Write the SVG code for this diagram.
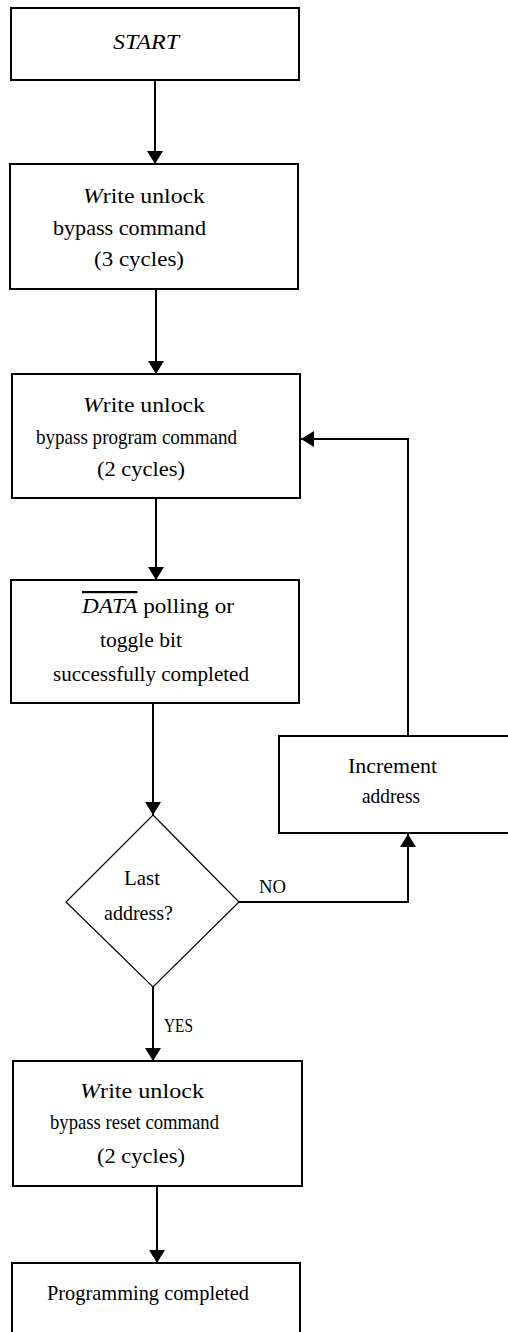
<svg xmlns="http://www.w3.org/2000/svg" width="508" height="1332" viewBox="0 0 508 1332">
<style>
.box{fill:#fff;stroke:#000;stroke-width:2}
.dia{fill:#fff;stroke:#000;stroke-width:1.2}
.con{fill:none;stroke:#000;stroke-width:2}
.t{font-family:'Liberation Serif','DejaVu Serif','Times New Roman',serif;font-size:22px;fill:#000}
.sm{font-size:19px}
.it{font-style:italic}
</style>
<defs>
<marker id="ah" markerUnits="userSpaceOnUse" markerWidth="14" markerHeight="16" viewBox="0 0 13 16" refX="13" refY="8" orient="auto">
<path d="M0,0 L13,8 L0,16 z" fill="#000"/>
</marker>
</defs>
<rect width="508" height="1332" fill="#fff"/>
<g id="connectors">
<line class="con" x1="155" y1="80" x2="155" y2="164" marker-end="url(#ah)"/>
<line class="con" x1="156" y1="289" x2="156" y2="374" marker-end="url(#ah)"/>
<line class="con" x1="156" y1="498" x2="156" y2="580" marker-end="url(#ah)"/>
<line class="con" x1="153" y1="703" x2="153" y2="815" marker-end="url(#ah)"/>
<polyline class="con" points="239,902 408,902 408,834" marker-end="url(#ah)"/>
<polyline class="con" points="408,736 408,439 301,439" marker-end="url(#ah)"/>
<line class="con" x1="153" y1="987" x2="153" y2="1061" marker-end="url(#ah)"/>
<line class="con" x1="157" y1="1186" x2="157" y2="1263" marker-end="url(#ah)"/>
<text class="t sm" font-family="Liberation Serif, serif" x="259" y="893" textLength="27" lengthAdjust="spacingAndGlyphs">NO</text>
<text class="t sm" font-family="Liberation Serif, serif" x="164" y="1032" textLength="29" lengthAdjust="spacingAndGlyphs">YES</text>
</g>
<g id="start">
<rect class="box" x="11" y="8" width="288" height="72"/>
<text class="t it" font-family="Liberation Serif, serif" x="113" y="49" textLength="66" lengthAdjust="spacingAndGlyphs">START</text>
</g>
<g id="unlock-bypass">
<rect class="box" x="10" y="164" width="288" height="125"/>
<text class="t" font-family="Liberation Serif, serif" x="83" y="203" textLength="122" lengthAdjust="spacingAndGlyphs"><tspan class="it">W</tspan>rite unlock</text>
<text class="t" font-family="Liberation Serif, serif" x="53" y="235" textLength="153" lengthAdjust="spacingAndGlyphs">bypass command</text>
<text class="t" font-family="Liberation Serif, serif" x="94" y="266" textLength="90" lengthAdjust="spacingAndGlyphs">(3 cycles)</text>
</g>
<g id="unlock-program">
<rect class="box" x="12" y="374" width="288" height="124"/>
<text class="t" font-family="Liberation Serif, serif" x="83" y="412" textLength="122" lengthAdjust="spacingAndGlyphs"><tspan class="it">W</tspan>rite unlock</text>
<text class="t" font-family="Liberation Serif, serif" x="36" y="444" textLength="201" lengthAdjust="spacingAndGlyphs">bypass program command</text>
<text class="t" font-family="Liberation Serif, serif" x="97" y="476" textLength="88" lengthAdjust="spacingAndGlyphs">(2 cycles)</text>
</g>
<g id="polling">
<rect class="box" x="11" y="580" width="288" height="123"/>
<text class="t" font-family="Liberation Serif, serif" x="82" y="613" textLength="152" lengthAdjust="spacingAndGlyphs"><tspan class="it" text-decoration="overline">DATA</tspan> polling or</text>
<text class="t" font-family="Liberation Serif, serif" x="100" y="647" textLength="82" lengthAdjust="spacingAndGlyphs">toggle bit</text>
<text class="t" font-family="Liberation Serif, serif" x="53" y="681" textLength="196" lengthAdjust="spacingAndGlyphs">successfully completed</text>
</g>
<g id="increment">
<rect class="box" x="279" y="736" width="240" height="97"/>
<text class="t" font-family="Liberation Serif, serif" x="348" y="773" textLength="89" lengthAdjust="spacingAndGlyphs">Increment</text>
<text class="t" font-family="Liberation Serif, serif" x="362" y="803" textLength="58" lengthAdjust="spacingAndGlyphs">address</text>
</g>
<g id="last-address">
<polygon class="dia" points="153,815 239,902 153,987 66,902"/>
<text class="t" font-family="Liberation Serif, serif" x="124" y="885" textLength="36" lengthAdjust="spacingAndGlyphs">Last</text>
<text class="t" font-family="Liberation Serif, serif" x="104" y="920" textLength="69" lengthAdjust="spacingAndGlyphs">address?</text>
</g>
<g id="unlock-reset">
<rect class="box" x="13" y="1061" width="289" height="125"/>
<text class="t" font-family="Liberation Serif, serif" x="80" y="1098" textLength="124" lengthAdjust="spacingAndGlyphs"><tspan class="it">W</tspan>rite unlock</text>
<text class="t" font-family="Liberation Serif, serif" x="50" y="1129" textLength="169" lengthAdjust="spacingAndGlyphs">bypass reset command</text>
<text class="t" font-family="Liberation Serif, serif" x="97" y="1163" textLength="88" lengthAdjust="spacingAndGlyphs">(2 cycles)</text>
</g>
<g id="done">
<rect class="box" x="12" y="1263" width="288" height="90"/>
<text class="t" font-family="Liberation Serif, serif" x="47" y="1300" textLength="202" lengthAdjust="spacingAndGlyphs">Programming completed</text>
</g>
</svg>
